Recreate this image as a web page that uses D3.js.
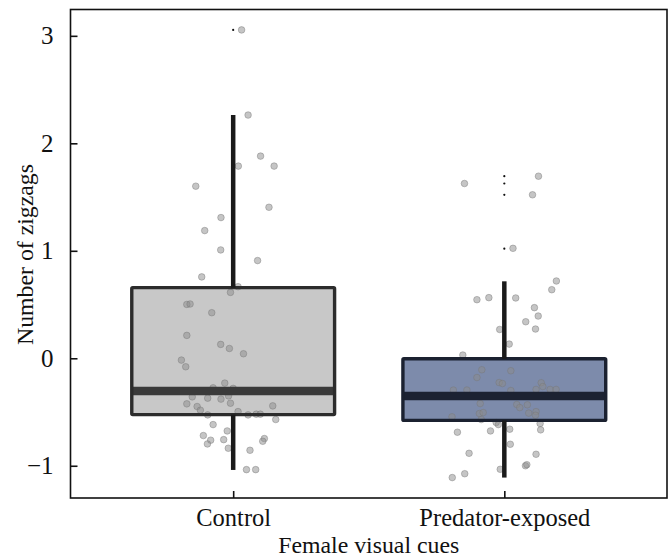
<!DOCTYPE html>
<html>
<head>
<meta charset="utf-8">
<script src="https://cdn.jsdelivr.net/npm/d3@7"></script>
<style>
  body { margin: 0; background: #fff; }
  svg text { font-family: "Liberation Serif", "DejaVu Serif", serif; fill: #111; }
</style>
</head>
<body>
<svg id="chart"></svg>
<script>
// groups and summary stats
const groups = ['Control', 'Predator-exposed'];
const q1 = [-0.524, -0.578];
const medians = [-0.305, -0.351];
const q3 = [0.657, -0.005];
const whiskerLow = [-1.039, -1.11];
const whiskerHigh = [2.263, 0.716];
const outliersControl = [3.055];
const outliersPredator = [1.694, 1.626, 1.521, 1.02];

// raw observations (value, jitter as fraction of category step)
const controlValues = [3.055, 2.263, 1.881, 1.788, 1.788, 1.601, 1.405, 1.309, 1.188, 1.008,
  0.909, 0.757, 0.666, 0.613, 0.501, 0.505, 0.424, 0.213, 0.129, 0.091,
  0.042, -0.017, -0.079, -0.231, -0.275, -0.28, -0.359, -0.371, -0.38, -0.35,
  -0.424, -0.418, -0.449, -0.483, -0.443, -0.527, -0.496, -0.527, -0.52, -0.52,
  -0.57, -0.617, -0.676, -0.719, -0.762, -0.797, -0.757, -0.837, -0.747, -0.772,
  -0.856, -1.036, -1.036];
const controlJitter = [0.031, 0.055, 0.101, 0.019, 0.151, -0.138, 0.132, -0.045, -0.105, -0.046,
  0.090, -0.116, 0.018, -0.010, -0.171, -0.159, -0.079, -0.171, -0.046, -0.014,
  0.038, -0.191, -0.175, -0.031, -0.074, 0.000, -0.151, -0.094, -0.045, -0.017,
  -0.171, -0.010, -0.133, -0.121, 0.146, -0.094, 0.018, 0.055, 0.085, 0.100,
  0.157, -0.074, -0.022, -0.110, -0.083, -0.095, -0.035, -0.018, 0.115, 0.109,
  0.062, 0.049, 0.083];
const predatorValues = [1.626, 1.694, 1.521, 1.023, 0.719, 0.638, 0.545, 0.564, 0.561, 0.471,
  0.393, 0.34, 0.272, 0.268, 0.132, 0.03, -0.107, -0.179, -0.116, -0.226,
  -0.235, -0.228, -0.263, -0.296, -0.296, -0.29, -0.29, -0.29, -0.3, -0.421,
  -0.43, -0.459, -0.433, -0.514, -0.505, -0.51, -0.496, -0.53, -0.545, -0.57,
  -0.598, -0.617, -0.607, -0.688, -0.676, -0.66, -0.666, -0.8, -0.884, -0.893,
  -1.033, -1.0, -0.99, -1.074, -1.11];
const predatorJitter = [-0.147, 0.126, 0.104, 0.032, 0.192, 0.175, -0.101, -0.057, 0.042, 0.111,
  0.125, 0.079, 0.115, -0.017, 0.018, -0.153, -0.083, -0.101, 0.024, -0.019,
  -0.007, 0.136, 0.142, -0.188, -0.138, 0.117, 0.169, 0.191, 0.024, -0.089,
  0.046, 0.057, 0.085, -0.092, -0.078, 0.090, 0.117, 0.115, -0.193, -0.085,
  -0.030, -0.022, 0.132, -0.173, -0.051, 0.020, 0.134, 0.022, -0.130, 0.117,
  -0.015, 0.078, 0.083, -0.146, -0.192];
const yTicks = [-1, 0, 1, 2, 3];

const boxFill = ['#c8c8c8', '#7d8bab'];
const boxStroke = ['#2c2c2c', '#1b2130'];
const medianColor = ['#3a3a3a', '#1c2232'];

const W = 672, H = 560;
const margin = { top: 9.5, right: 5, bottom: 62, left: 70.5 };
const width = W - margin.left - margin.right;
const height = H - margin.top - margin.bottom;

const svg = d3.select('#chart').attr('width', W).attr('height', H);
const g = svg.append('g').attr('transform', `translate(${margin.left},${margin.top})`);

const x = d3.scalePoint().domain(groups).range([0, width]).padding(0.6);
const y = d3.scaleLinear().domain([-1.3, 3.245]).range([height, 0]);
const step = x.step();
const boxW = step * 0.748;

const stats = groups.map((grp, i) => ({
  grp, i, q1: q1[i], med: medians[i], q3: q3[i], lo: whiskerLow[i], hi: whiskerHigh[i]
}));

const points = [];
controlValues.forEach((v, k) => points.push({ grp: groups[0], v, j: controlJitter[k] }));
predatorValues.forEach((v, k) => points.push({ grp: groups[1], v, j: predatorJitter[k] }));

const outliers = outliersControl.map(v => ({ grp: groups[0], v }))
  .concat(outliersPredator.map(v => ({ grp: groups[1], v })));

// box fills
g.selectAll('.box-fill')
  .data(stats)
  .enter()
  .append('rect')
  .attr('x', d => x(d.grp) - boxW / 2)
  .attr('y', d => y(d.q3))
  .attr('width', boxW)
  .attr('height', d => y(d.q1) - y(d.q3))
  .attr('fill', d => boxFill[d.i]);

// jittered points
g.selectAll('.pt')
  .data(points)
  .enter()
  .append('circle')
  .attr('cx', d => x(d.grp) + d.j * step)
  .attr('cy', d => y(d.v))
  .attr('r', 3.3)
  .attr('fill', '#8c8c8c')
  .attr('fill-opacity', 0.5)
  .attr('stroke', '#777')
  .attr('stroke-opacity', 0.55)
  .attr('stroke-width', 0.8);

// median bands
g.selectAll('.median')
  .data(stats)
  .enter()
  .append('line')
  .attr('x1', d => x(d.grp) - boxW / 2)
  .attr('x2', d => x(d.grp) + boxW / 2)
  .attr('y1', d => y(d.med))
  .attr('y2', d => y(d.med))
  .attr('stroke', d => medianColor[d.i])
  .attr('stroke-width', 8.5);

// box outlines
g.selectAll('.box-line')
  .data(stats)
  .enter()
  .append('rect')
  .attr('x', d => x(d.grp) - boxW / 2)
  .attr('y', d => y(d.q3))
  .attr('width', boxW)
  .attr('height', d => y(d.q1) - y(d.q3))
  .attr('fill', 'none')
  .attr('stroke', d => boxStroke[d.i])
  .attr('stroke-width', 3.4)
  .attr('rx', 1);

// whiskers
stats.forEach(d => {
  [[d.q3, d.hi], [d.q1, d.lo]].forEach(([a, b]) => {
    g.append('line')
      .attr('x1', x(d.grp)).attr('x2', x(d.grp))
      .attr('y1', y(a)).attr('y2', y(b))
      .attr('stroke', '#1a1a1a')
      .attr('stroke-width', 4.5);
  });
});

// outliers
g.selectAll('.outlier')
  .data(outliers)
  .enter()
  .append('circle')
  .attr('cx', d => x(d.grp))
  .attr('cy', d => y(d.v))
  .attr('r', 1.1)
  .attr('fill', '#111');

// frame
g.append('rect')
  .attr('width', width)
  .attr('height', height)
  .attr('fill', 'none')
  .attr('stroke', '#111')
  .attr('stroke-width', 1.6);

// y-axis (ticks inside)
const yAxis = g.append('g')
  .call(d3.axisLeft(y).tickValues(yTicks).tickSize(-7).tickPadding(17)
    .tickFormat(d => d < 0 ? '\u2212' + Math.abs(d) : d));
yAxis.select('.domain').remove();
yAxis.selectAll('line').attr('stroke', '#111').attr('stroke-width', 1.6);
yAxis.selectAll('text').attr('font-size', 25).style('font-family', '"Liberation Serif", serif').attr('fill', '#111');

// x-axis (ticks inside)
const xAxis = g.append('g')
  .attr('transform', `translate(0,${height})`)
  .call(d3.axisBottom(x).tickSize(-7).tickPadding(11));
xAxis.select('.domain').remove();
xAxis.selectAll('line').attr('stroke', '#111').attr('stroke-width', 1.6);
xAxis.selectAll('text').attr('font-size', 24.5).style('font-family', '"Liberation Serif", serif').attr('fill', '#111');

// axis labels
svg.append('text')
  .attr('x', margin.left + width / 2)
  .attr('y', 553)
  .attr('text-anchor', 'middle')
  .attr('font-size', 23.8)
  .text('Female visual cues');

svg.append('text')
  .attr('transform', 'rotate(-90)')
  .attr('x', -(margin.top + 245))
  .attr('y', 33)
  .attr('text-anchor', 'middle')
  .attr('font-size', 23.8)
  .text('Number of zigzags');
</script>
</body>
</html>
